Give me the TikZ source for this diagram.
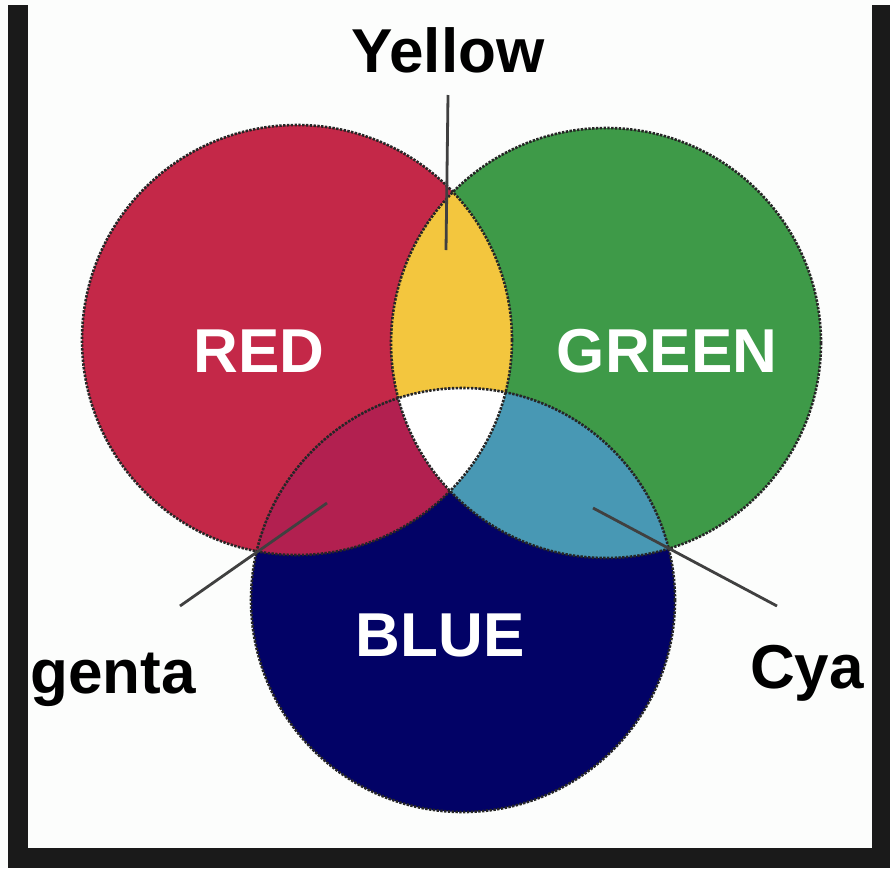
\documentclass[tikz,border=0pt]{standalone}
\usepackage{fontspec}
\setmainfont{Liberation Sans}
\begin{document}
\begin{tikzpicture}[x=1pt,y=-1pt,
  outline/.style={draw=black!85,line width=2.6pt,dash pattern=on 2.4pt off 1.4pt},
  leader/.style={draw=black!75,line width=2.8pt},
  lbl/.style={font=\fontsize{62}{62}\selectfont\bfseries,inner sep=0pt},
]
\definecolor{cred}{RGB}{196,40,72}
\definecolor{cgreen}{RGB}{62,154,72}
\definecolor{cblue}{RGB}{2,2,102}
\definecolor{cyellow}{RGB}{243,198,62}
\definecolor{cmag}{RGB}{178,32,80}
\definecolor{ccyan}{RGB}{72,152,180}
\definecolor{bg}{RGB}{252,253,252}
\definecolor{frame}{RGB}{26,26,26}
\useasboundingbox (0,0) rectangle (890,868);
\fill[bg] (0,0) rectangle (890,868);
% frame
\fill[frame] (8,5) rectangle (28,868);
\fill[frame] (872,5) rectangle (890,868);
\fill[frame] (8,848) rectangle (890,868);
% circle centres
\coordinate (R) at (297,340);
\coordinate (G) at (606,343);
\coordinate (B) at (463,600);
\def\rr{215}
\def\rb{212}
% base fills
\fill[cred] (R) circle (\rr);
\fill[cgreen] (G) circle (\rr);
\fill[cblue] (B) circle (\rb);
% overlaps
\begin{scope}
  \clip (R) circle (\rr);
  \fill[cyellow] (G) circle (\rr);
  \fill[cmag] (B) circle (\rb);
\end{scope}
\begin{scope}
  \clip (G) circle (\rr);
  \fill[ccyan] (B) circle (\rb);
\end{scope}
\begin{scope}
  \clip (R) circle (\rr);
  \clip (G) circle (\rr);
  \fill[white] (B) circle (\rb);
\end{scope}
% outlines
\draw[outline] (R) circle (\rr);
\draw[outline] (G) circle (\rr);
\draw[outline] (B) circle (\rb);
% leader line end points
\coordinate (yTop) at (448,95);
\coordinate (yEnd) at (446,250);
\coordinate (mOut) at (180,606);
\coordinate (mIn) at (327,503);
\coordinate (cIn) at (593,508);
\coordinate (cOut) at (777,606);
\draw[leader] (yTop) -- (yEnd);
\draw[leader] (mOut) -- (mIn);
\draw[leader] (cIn) -- (cOut);
% labels
\node[lbl,anchor=base] (yellow) at (448,72) {Yellow};
\node[lbl,anchor=base,text=white] (red) at (259,372) {RED};
\node[lbl,anchor=base,text=white] (green) at (667,372) {GREEN};
\node[lbl,anchor=base,text=white] (blue) at (440,656) {BLUE};
\node[lbl,anchor=base west] (magenta) at (30,693) {genta};
\node[lbl,anchor=base west] (cyan) at (750,688) {Cya};
\end{tikzpicture}
\end{document}
